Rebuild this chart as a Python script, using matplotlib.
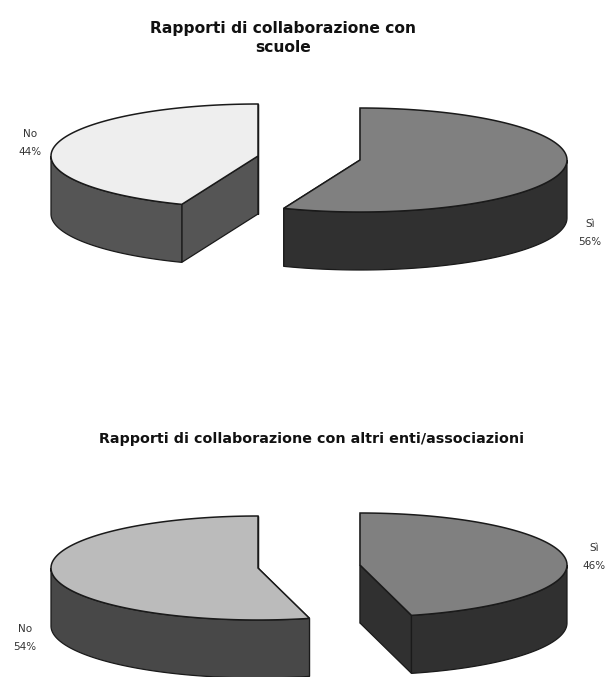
import numpy as np
import matplotlib
matplotlib.use("Agg")
import matplotlib.pyplot as plt
from matplotlib.patches import Polygon

labels = ["Sì", "No"]
scuole_pct = [56, 44]
enti_pct = [46, 54]
titolo_scuole = "Rapporti di collaborazione con\nscuole"
titolo_enti = "Rapporti di collaborazione con altri enti/associazioni"

RX = 207
RY = 52
EDGE = "#1a1a1a"


def punto(cx, cy, a):
    # angle in degrees, clockwise from 12 o'clock
    r = np.radians(a)
    return cx + RX * np.sin(r), cy - RY * np.cos(r)


def arco(cx, cy, a0, a1):
    t = np.linspace(a0, a1, 120)
    x, y = punto(cx, cy, t)
    return np.column_stack([x, y])


def fetta(ax, cx, cy, a0, a1, depth, top_col, side_col):
    giu = np.array([0, depth])
    apex = np.array([cx, cy])

    # cut faces first, the hidden one ends up under the wall and the top
    for a in (a0, a1):
        tip = np.array(punto(cx, cy, a))
        ax.add_patch(Polygon([apex, tip, tip + giu, apex + giu], fc=side_col, ec=EDGE, lw=0.9))

    # outer wall, only the part that faces the viewer
    f0, f1 = max(a0, 90), min(a1, 270)
    if f1 > f0:
        bordo = arco(cx, cy, f0, f1)
        ax.add_patch(Polygon(np.vstack([bordo, bordo[::-1] + giu]), fc=side_col, ec=EDGE, lw=0.9))

    ax.add_patch(Polygon(np.vstack([apex, arco(cx, cy, a0, a1)]), fc=top_col, ec=EDGE, lw=1.1))


def torta(ax, valori, si_xy, no_xy, depth, no_top, no_side):
    taglio = valori[0] / sum(valori) * 360
    fetta(ax, si_xy[0], si_xy[1], 0, taglio, depth, "#808080", "#303030")
    fetta(ax, no_xy[0], no_xy[1], taglio, 360, depth, no_top, no_side)


fig = plt.figure(figsize=(6.09, 6.77), dpi=100)
ax = fig.add_axes([0, 0, 1, 1])
ax.set_xlim(0, 609)
ax.set_ylim(677, 0)
ax.axis("off")

torta(ax, scuole_pct, (360, 160), (258, 156), 58, "#eeeeee", "#555555")
torta(ax, enti_pct, (360, 565), (258, 568), 58, "#bbbbbb", "#484848")

ax.text(283, 38, titolo_scuole, ha="center", va="center", fontsize=11.2, fontweight="bold",
        color="#111111", linespacing=1.28)
ax.text(312, 439, titolo_enti, ha="center", va="center", fontsize=10.3, fontweight="bold",
        color="#111111")

# percent labels next to each slice
etichette = [
    (30, 143, 1, scuole_pct), (590, 233, 0, scuole_pct),
    (25, 638, 1, enti_pct), (594, 557, 0, enti_pct),
]
for x, y, i, valori in etichette:
    ax.text(x, y, f"{labels[i]}\n{valori[i]}%", ha="center", va="center", fontsize=7.5,
            color="#333333", linespacing=1.95)

fig.savefig("out.png", dpi=100)
